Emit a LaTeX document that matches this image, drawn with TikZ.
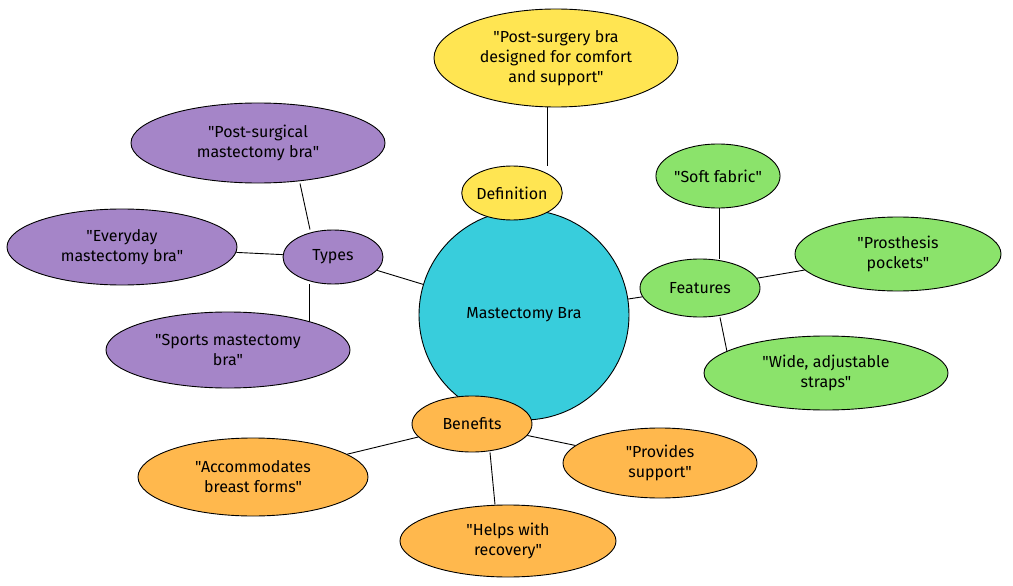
\documentclass[tikz,border=0pt]{standalone}
\usepackage{fontspec}
\setmainfont{Fira Sans}[Ligatures=TeXOff]
\usetikzlibrary{shapes.geometric,backgrounds}
\definecolor{cyanc}{HTML}{38CDDC}
\definecolor{yel}{HTML}{FFE552}
\definecolor{pur}{HTML}{A585C8}
\definecolor{grn}{HTML}{8BE36B}
\definecolor{org}{HTML}{FFB84D}
\newcommand\dq{\char34\relax}
\tikzset{
  bub/.style={ellipse, draw=black, line width=0.9pt, inner sep=0pt, align=center,
    font=\fontsize{16}{20}\selectfont},
  yb/.style={bub, fill=yel},
  pb/.style={bub, fill=pur},
  gb/.style={bub, fill=grn},
  ob/.style={bub, fill=org},
  link/.style={draw=black, line width=0.9pt},
}
\begin{document}
\begin{tikzpicture}[x=1pt,y=-1pt]
\useasboundingbox (0,0) rectangle (1013,586);
% center
\node[bub, circle, fill=cyanc, minimum size=210pt] (mb) at (524,315) {Mastectomy Bra};
% definition
\node[yb, minimum width=100pt, minimum height=54pt] (def) at (512,193) {Definition};
\node[yb, minimum width=244pt, minimum height=98pt] (defT) at (556,58) {\dq Post-surgery bra\\designed for comfort\\and support\dq};
% types
\node[pb, minimum width=100pt, minimum height=54pt] (types) at (333,257) {Types};
\node[pb, minimum width=254pt, minimum height=80pt] (t1) at (258,143) {\dq Post-surgical\\mastectomy bra\dq};
\node[pb, minimum width=230pt, minimum height=76pt] (t2) at (122,247) {\dq Everyday\\mastectomy bra\dq};
\node[pb, minimum width=244pt, minimum height=76pt] (t3) at (228,350) {\dq Sports mastectomy\\bra\dq};
% features
\node[gb, minimum width=120pt, minimum height=58pt] (feat) at (700,288) {Features};
\node[gb, minimum width=124pt, minimum height=64pt] (f1) at (718,176) {\dq Soft fabric\dq};
\node[gb, minimum width=206pt, minimum height=74pt] (f2) at (898,254) {\dq Prosthesis\\pockets\dq};
\node[gb, minimum width=244pt, minimum height=74pt] (f3) at (826,373) {\dq Wide, adjustable\\straps\dq};
% benefits
\node[ob, minimum width=120pt, minimum height=56pt] (ben) at (472,424) {Benefits};
\node[ob, minimum width=230pt, minimum height=78pt] (b1) at (253,477) {\dq Accommodates\\breast forms\dq};
\node[ob, minimum width=194pt, minimum height=70pt] (b2) at (660,463) {\dq Provides\\support\dq};
\node[ob, minimum width=216pt, minimum height=72pt] (b3) at (508,541) {\dq Helps with\\recovery\dq};
% connectors
\begin{scope}[on background layer]
\draw[link] (mb) -- (def);
\draw[link] (defT.south -| 547,0) -- (def.north -| 547,0);
\draw[link] (mb) -- (types);
\draw[link] (types.north -| 310,0) -- (t1.south -| 300,0);
\draw[link] (types) -- (t2);
\draw[link] (types.south -| 309,0) -- ([yshift=-10pt]t3.north -| 309,0);
\draw[link] (mb) -- (feat);
\draw[link] (feat.north -| 719,0) -- (f1.south -| 719,0);
\draw[link] (feat) -- (f2);
\draw[link] (feat.south -| 720,0) -- ([yshift=-16pt]f3.north -| 727,0);
\draw[link] (mb) -- (ben);
\draw[link] (ben) -- (b1);
\draw[link] (ben) -- (b2);
\draw[link] (ben.south -| 490,0) -- (b3.north -| 495,0);
\end{scope}
\end{tikzpicture}
\end{document}
